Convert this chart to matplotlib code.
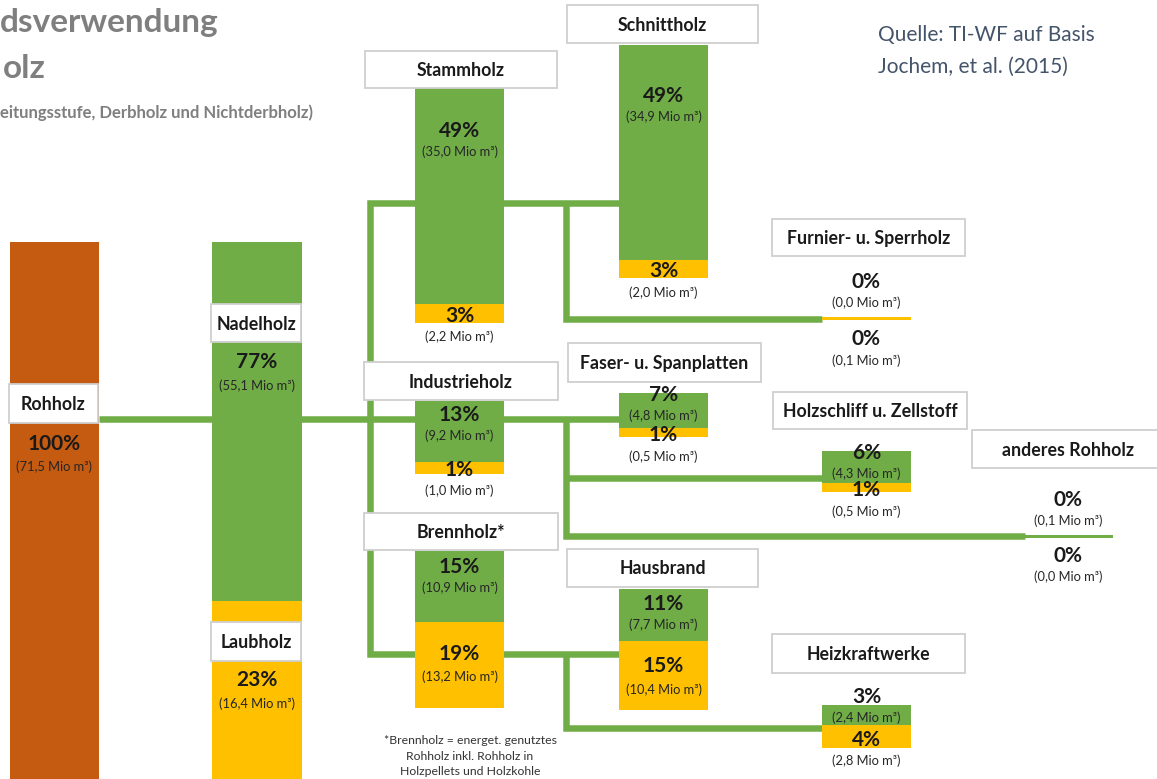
import matplotlib
matplotlib.use("Agg")
import matplotlib.pyplot as plt
from matplotlib.patches import Rectangle

plt.rcParams['font.family'] = ['Lato', 'DejaVu Sans']

# ---------------- data (Mio m³ and shares of total) ----------------
total_name = "Rohholz"
total_mio = 71.5
total_pct = 100

species = ["Nadelholz", "Laubholz"]
species_mio = [55.1, 16.4]
species_pct = [77, 23]

nodes = ["Stammholz", "Schnittholz", "Furnier- u. Sperrholz", "Industrieholz",
         "Faser- u. Spanplatten", "Holzschliff u. Zellstoff", "anderes Rohholz",
         "Brennholz*", "Hausbrand", "Heizkraftwerke"]
nadel_mio = [35.0, 34.9, 0.0, 9.2, 4.8, 4.3, 0.1, 10.9, 7.7, 2.4]
laub_mio = [2.2, 2.0, 0.1, 1.0, 0.5, 0.5, 0.0, 13.2, 10.4, 2.8]
nadel_pct = [49, 49, 0, 13, 7, 6, 0, 15, 11, 3]
laub_pct = [3, 3, 0, 1, 1, 1, 0, 19, 15, 4]

title_lines = ["dsverwendung", "olz", "eitungsstufe, Derbholz und Nichtderbholz)"]
source_lines = ["Quelle: TI-WF auf Basis", "Jochem, et al. (2015)"]
footnote = "*Brennholz = energet. genutztes\nRohholz inkl. Rohholz in\nHolzpellets und Holzkohle"

# ---------------- style ----------------
GREEN = "#70ad47"
YELLOW = "#ffc000"
ORANGE = "#c55a11"
W, H = 1157, 779
BAR_W = 89
PX_PER_MIO = 6.0
FIRST_COL_PX_PER_MIO = 6.4
BASE_PX = 6.0
LINE_PX = 2.6
LW = 6.5 * 72 / 100  # connector linewidth in points

def seg_height(v, k=PX_PER_MIO):
    if v <= 0:
        return 0.0
    if v < 0.3:
        return LINE_PX
    return k * v + BASE_PX

def vol(v):
    return "({} Mio m³)".format(f"{v:.1f}".replace(".", ","))

fig = plt.figure(figsize=(W / 100, H / 100), dpi=100)
ax = fig.add_axes([0, 0, 1, 1])
ax.set_xlim(0, W)
ax.set_ylim(H, 0)
ax.axis("off")

def label_box(x0, y0, x1, y1, text):
    ax.add_patch(Rectangle((x0, y0), x1 - x0, y1 - y0, facecolor="white",
                           edgecolor="#cfcfcf", lw=1.3, zorder=3))
    ax.text((x0 + x1) / 2, (y0 + y1) / 2 + 1, text, ha="center", va="center",
            fontsize=12.8, fontweight="bold", color="#1a1a1a", zorder=4)

def pct_text(x, y, p):
    ax.text(x, y, f"{p}%", ha="center", va="center", fontsize=15,
            fontweight="bold", color="#1a1a1a", zorder=5)

def vol_text(x, y, v):
    ax.text(x, y, vol(v), ha="center", va="center", fontsize=9.3,
            color="#262626", zorder=5)

# ---------------- connectors ----------------
paths = [
    [(99, 419), (620, 419)],
    [(620, 203), (370, 203), (370, 654), (620, 654)],
    [(566, 203), (566, 319), (822, 319)],
    [(566, 419), (566, 536), (1025, 536)],
    [(566, 478), (822, 478)],
    [(566, 654), (566, 728), (822, 728)],
]
for p in paths:
    xs, ys = zip(*p)
    ax.plot(xs, ys, color=GREEN, lw=LW, solid_joinstyle="miter",
            solid_capstyle="butt", zorder=1)

# ---------------- first column (open-ended at bottom, chart is cropped) ----------------
ax.bar(10 + BAR_W / 2, H - 242, width=BAR_W, bottom=242, color=ORANGE, zorder=2)
nadel_top = 242
nadel_h = seg_height(species_mio[0], FIRST_COL_PX_PER_MIO)
ax.bar(212 + BAR_W / 2, nadel_h, width=BAR_W + 1, bottom=nadel_top, color=GREEN, zorder=2)
ax.bar(212 + BAR_W / 2, H - (nadel_top + nadel_h), width=BAR_W + 1,
       bottom=nadel_top + nadel_h, color=YELLOW, zorder=2)

label_box(9, 384, 98, 423, total_name)
pct_text(54, 444, total_pct)
vol_text(54, 467, total_mio)
label_box(211, 304, 301, 342, species[0])
pct_text(257, 362, species_pct[0])
vol_text(257, 386, species_mio[0])
label_box(211, 622, 301, 661, species[1])
pct_text(257, 680, species_pct[1])
vol_text(257, 704, species_mio[1])

# ---------------- node layout ----------------
layout = [
    dict(x=415, top=88, gdy=43, ydy=2, box=(365, 51, 557, 88)),
    dict(x=619, top=45, gdy=51, ydy=2, box=(567, 5, 758, 43)),
    dict(x=822, top=317, gdy=-35, ydy=21, box=(772, 219, 965, 256)),
    dict(x=415, top=401, gdy=14, ydy=2, box=(364, 362, 558, 400)),
    dict(x=619, top=393, gdy=2, ydy=3, box=(568, 343, 761, 382)),
    dict(x=822, top=451, gdy=2, ydy=3, box=(773, 392, 967, 429)),
    dict(x=1024, top=535, gdy=-35, ydy=18, box=(972, 430, 1165, 468)),
    dict(x=415, top=551, gdy=16, ydy=-11, box=(364, 513, 558, 550), inside=True),
    dict(x=619, top=589, gdy=15, ydy=-9, box=(567, 549, 758, 587), inside=True),
    dict(x=822, top=705, gdy=-8, ydy=3, box=(772, 634, 965, 673)),
]

for name, nv, lv, np_, lp, L in zip(nodes, nadel_mio, laub_mio, nadel_pct, laub_pct, layout):
    cx = L["x"] + BAR_W / 2
    top = L["top"]
    gh = seg_height(nv)
    yh = seg_height(lv)
    if gh > 0:
        ax.bar(cx, gh, width=BAR_W, bottom=top, color=GREEN, zorder=2)
    if yh > 0:
        ax.bar(cx, yh, width=BAR_W, bottom=top + gh, color=YELLOW, zorder=2)
    label_box(*L["box"], name)
    gy = top + L["gdy"]
    pct_text(cx, gy, np_)
    vol_text(cx, gy + 21, nv)
    yc = top + gh + yh / 2 if yh > 0 else top + gh
    yy = yc + L["ydy"]
    pct_text(cx, yy, lp)
    vol_text(cx, yy + (23 if L.get("inside") else 21), lv)

# ---------------- texts ----------------
ax.text(0, 22, title_lines[0], ha="left", va="center", fontsize=24,
        fontweight="bold", color="#7f7f7f")
ax.text(3, 68, title_lines[1], ha="left", va="center", fontsize=24,
        fontweight="bold", color="#7f7f7f")
ax.text(0, 113, title_lines[2], ha="left", va="center", fontsize=12,
        fontweight="bold", color="#7f7f7f")
ax.text(878, 35, source_lines[0], ha="left", va="center", fontsize=15,
        color="#44546a")
ax.text(878, 67, source_lines[1], ha="left", va="center", fontsize=15,
        color="#44546a")
ax.text(470, 756, footnote, ha="center", va="center", fontsize=8.8,
        color="#333333", linespacing=1.5)

fig.savefig("out.png", dpi=100)
